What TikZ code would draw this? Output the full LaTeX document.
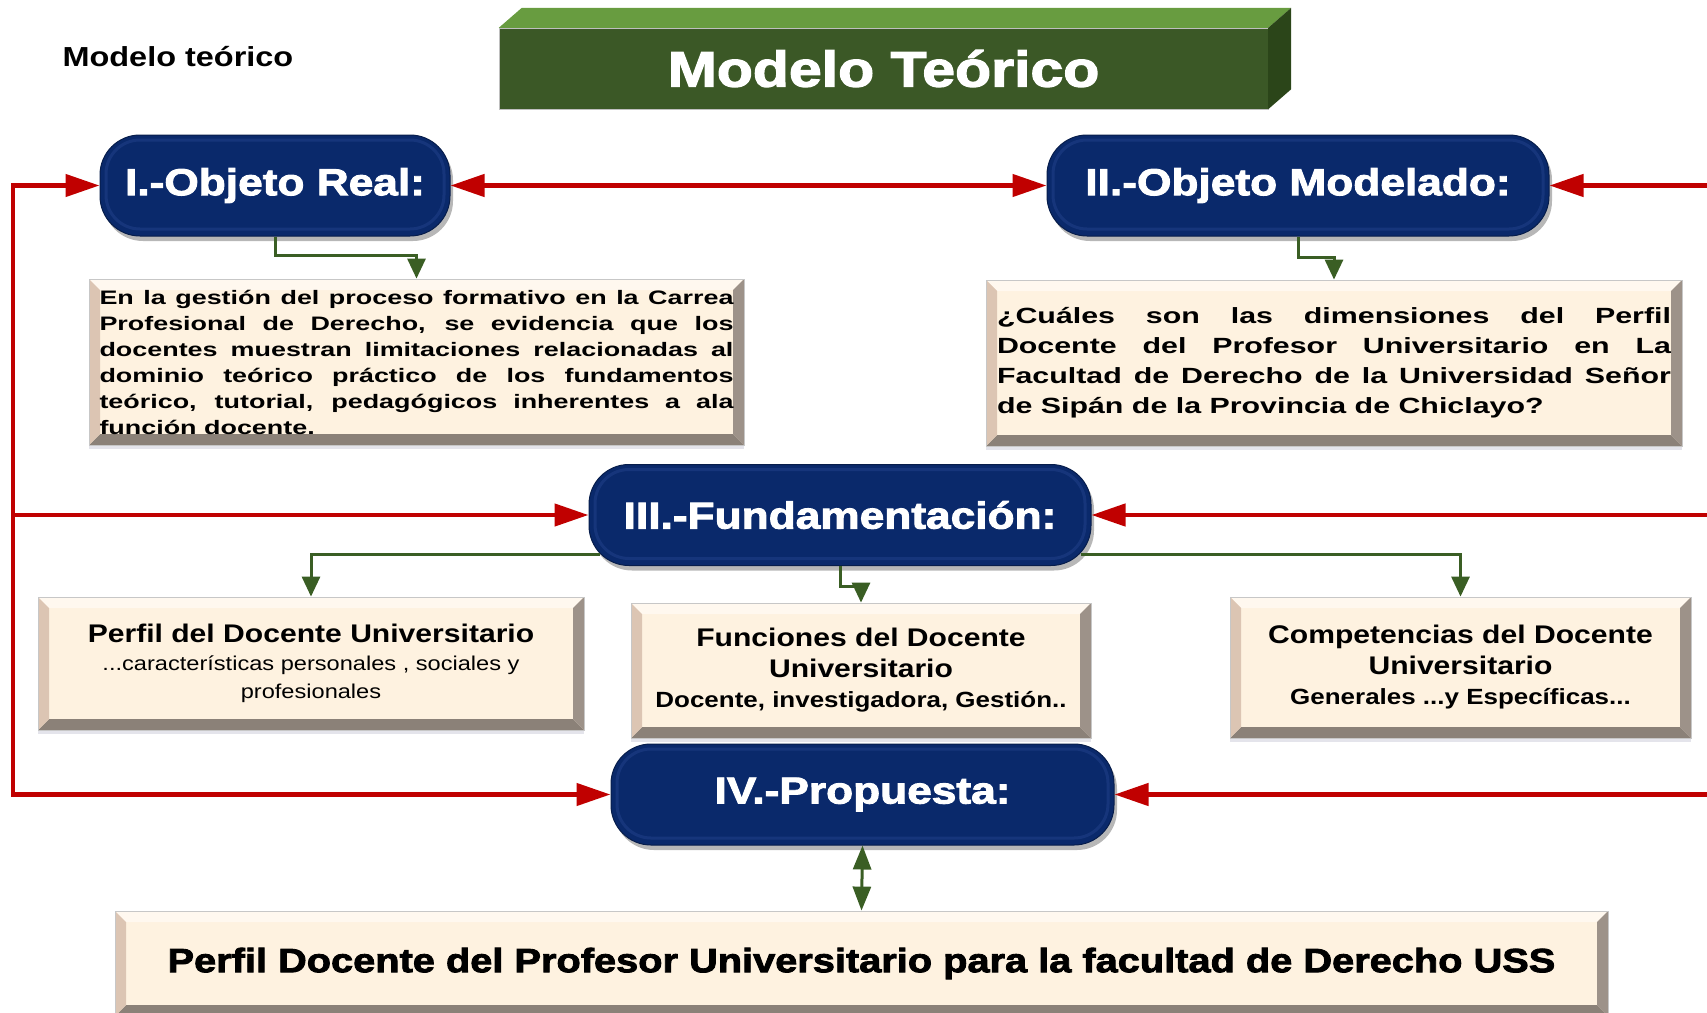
\documentclass[tikz,border=0pt]{standalone}
\usepackage{fontspec}
\usepackage{tikz}
\usetikzlibrary{arrows.meta, shadows}
\newfontfamily\hdfont[FakeStretch=1.18]{Liberation Sans}
\newfontfamily\hvfont[FakeStretch=1.18,FakeBold=2.5]{Liberation Sans}
\newfontfamily\parfont[FakeStretch=1.38]{Liberation Sans}
\definecolor{phaseblue}{HTML}{0A296B}
\definecolor{phaserim}{HTML}{3354A0}
\definecolor{redline}{HTML}{C00000}
\definecolor{greenline}{HTML}{3A5E24}
\definecolor{frontgreen}{HTML}{3B5826}
\definecolor{topgreen}{HTML}{689C40}
\definecolor{sidegreen}{HTML}{2B4519}
\definecolor{face}{HTML}{FEF2E0}
\definecolor{bevtop}{HTML}{FFF8EF}
\definecolor{bevleft}{HTML}{DCC5B3}
\definecolor{bevright}{HTML}{9D9289}
\definecolor{bevbottom}{HTML}{8B8178}
\newcommand{\bevelfaces}{%
	\fill[bevtop] (path picture bounding box.north west) -- (path picture bounding box.north east)
		-- ([shift={(-11pt,-11pt)}]path picture bounding box.north east) -- ([shift={(11pt,-11pt)}]path picture bounding box.north west) -- cycle;
	\fill[bevbottom] (path picture bounding box.south west) -- (path picture bounding box.south east)
		-- ([shift={(-11pt,11pt)}]path picture bounding box.south east) -- ([shift={(11pt,11pt)}]path picture bounding box.south west) -- cycle;
	\fill[bevleft] (path picture bounding box.north west) -- ([shift={(11pt,-11pt)}]path picture bounding box.north west)
		-- ([shift={(11pt,11pt)}]path picture bounding box.south west) -- (path picture bounding box.south west) -- cycle;
	\fill[bevright] (path picture bounding box.north east) -- ([shift={(-11pt,-11pt)}]path picture bounding box.north east)
		-- ([shift={(-11pt,11pt)}]path picture bounding box.south east) -- (path picture bounding box.south east) -- cycle;
}

\begin{document}
\begin{tikzpicture}[x=1pt, y=-1pt,
		phase/.style={rectangle, rounded corners=40pt, fill=phaseblue, draw=phaseblue!70!black, line width=1pt,
			minimum height=101pt, text=white, font=\hvfont\bfseries\fontsize{37.5}{40}\selectfont,
			drop shadow={shadow xshift=3pt, shadow yshift=-5pt, opacity=.4, fill=black!70},
			path picture={\draw[phaserim, line width=3pt, opacity=.3, rounded corners=34pt]
				([shift={(6pt,-5pt)}]path picture bounding box.north west) rectangle ([shift={(-6pt,7pt)}]path picture bounding box.south east);}},
		bevelbox/.style={rectangle, fill=face, draw=black!22, line width=0.8pt, inner sep=0pt, text=black,
			drop shadow={shadow xshift=0pt, shadow yshift=-4pt, opacity=.3, fill=blue!15!gray!60},
			path picture={\bevelfaces}},
		titlebox/.style={rectangle, fill=frontgreen, draw=black!25, minimum width=769pt, minimum height=81pt,
			text=white, font=\hvfont\bfseries\fontsize{50}{53}\selectfont},
		redfeed/.style={draw=redline, line width=4.5pt, -{Triangle[length=34pt,width=22pt]}},
		redboth/.style={draw=redline, line width=4.5pt, {Triangle[length=34pt,width=22pt]}-{Triangle[length=34pt,width=22pt]}},
		redbus/.style={draw=redline, line width=4.5pt, line cap=rect},
		greenstep/.style={draw=greenline, line width=3pt, -{Triangle[length=20pt,width=18pt]}},
		greenboth/.style={draw=greenline, line width=3pt, {Triangle[length=24pt,width=18pt]}-{Triangle[length=24pt,width=18pt]}}]
			\useasboundingbox (0,0) rectangle (1707,1012);

			% Title
			\node[anchor=west, font=\hdfont\bfseries\fontsize{27.5}{30}\selectfont] (caption) at (59,57) {Modelo teórico};
			\node[titlebox] (titulo) at (883.5,68.5) {Modelo Teórico};
			\fill[topgreen] (titulo.north west) -- ([shift={(23pt,20pt)}]titulo.north west) -- ([shift={(23pt,20pt)}]titulo.north east) -- (titulo.north east) -- cycle;
			\fill[sidegreen] (titulo.north east) -- ([shift={(23pt,20pt)}]titulo.north east) -- ([shift={(23pt,20pt)}]titulo.south east) -- (titulo.south east) -- cycle;

			% Phases
			\node[phase, minimum width=350pt] (objReal) at (275,185.5) {I.-Objeto Real:};
			\node[phase, minimum width=502pt] (objMod) at (1298,185.5) {II.-Objeto Modelado:};
			\node[phase, minimum width=502pt] (fund) at (840,515) {III.-Fundamentación:};
			\node[phase, minimum width=503pt] (prop) at (862.5,794.5) {IV.-Propuesta:};

			% Boxes
			\node[bevelbox, minimum width=655pt, minimum height=166pt, text width=634pt, align=justify,
				font=\parfont\bfseries\fontsize{19.5}{26}\selectfont] (problema) at (416.5,362)
				{En la gestión del proceso formativo en la Carrea\linebreak
				Profesional de Derecho, se evidencia que los\linebreak
				docentes muestran limitaciones relacionadas al\linebreak
				dominio teórico práctico de los fundamentos\linebreak
				teórico, tutorial, pedagógicos inherentes a ala\linebreak
				función docente.};
			\node[bevelbox, minimum width=696pt, minimum height=166pt, text width=674pt, align=justify,
				font=\parfont\bfseries\fontsize{22}{30}\selectfont] (pregunta) at (1334,363)
				{¿Cuáles son las dimensiones del Perfil\linebreak
				Docente del Profesor Universitario en La\linebreak
				Facultad de Derecho de la Universidad Señor\linebreak
				de Sipán de la Provincia de Chiclayo?};
			\node[bevelbox, minimum width=546pt, minimum height=133pt, align=center,
				font=\hdfont\fontsize{20}{28}\selectfont] (perfil) at (311,663.5)
				{{\bfseries\fontsize{25.5}{28}\selectfont Perfil del Docente Universitario}\\
				...características personales , sociales y\\ profesionales};
			\node[bevelbox, minimum width=460pt, minimum height=135pt, align=center,
				font=\hdfont\bfseries\fontsize{25.5}{30.5}\selectfont] (funcion) at (861,670.5)
				{Funciones del Docente\\ Universitario\\
				{\fontsize{22}{30.5}\selectfont Docente, investigadora, Gestión..}};
			\node[bevelbox, minimum width=461pt, minimum height=141pt, align=center,
				font=\hdfont\bfseries\fontsize{25.5}{30.5}\selectfont] (compet) at (1460.5,667.5)
				{Competencias del Docente\\ Universitario\\
				{\fontsize{22}{30.5}\selectfont Generales ...y Específicas...}};
			\node[bevelbox, minimum width=1493pt, minimum height=105pt,
				font=\hvfont\bfseries\fontsize{33.7}{36}\selectfont] (final) at (861.5,963.5)
				{Perfil Docente del Profesor Universitario para la facultad de Derecho USS};

			% Red feedback lines
			\coordinate (busTop) at (13,185.5);
			\coordinate (busMid) at (13,515);
			\coordinate (busLow) at (13,794.5);
			\coordinate (rimTop) at (1710,185.5);
			\coordinate (rimMid) at (1710,515);
			\coordinate (rimLow) at (1710,794.5);
			\draw[redbus] (busTop) -- (busLow);
			\draw[redfeed] (busTop) -- (objReal.west);
			\draw[redfeed] (busMid) -- (fund.west);
			\draw[redfeed] (busLow) -- (prop.west);
			\draw[redboth] (objReal.east) -- (objMod.west);
			\draw[redfeed] (rimTop) -- (objMod.east);
			\draw[redfeed] (rimMid) -- (fund.east);
			\draw[redfeed] (rimLow) -- (prop.east);

			% Green connectors
			\draw[greenstep] (objReal.south) -- ++(0,19) -| (problema.north);
			\draw[greenstep] (objMod.south) -- ++(0,21) -| (pregunta.north);
			\draw[greenstep] ([xshift=11pt,yshift=12pt]fund.south west) -| (perfil.north);
			\draw[greenstep] (fund.south) -- ++(0,20) -| (funcion.north);
			\draw[greenstep] ([xshift=-11pt,yshift=12pt]fund.south east) -| (compet.north);
			\draw[greenboth] (prop.south) -- (final.north);
		\end{tikzpicture}
\end{document}
